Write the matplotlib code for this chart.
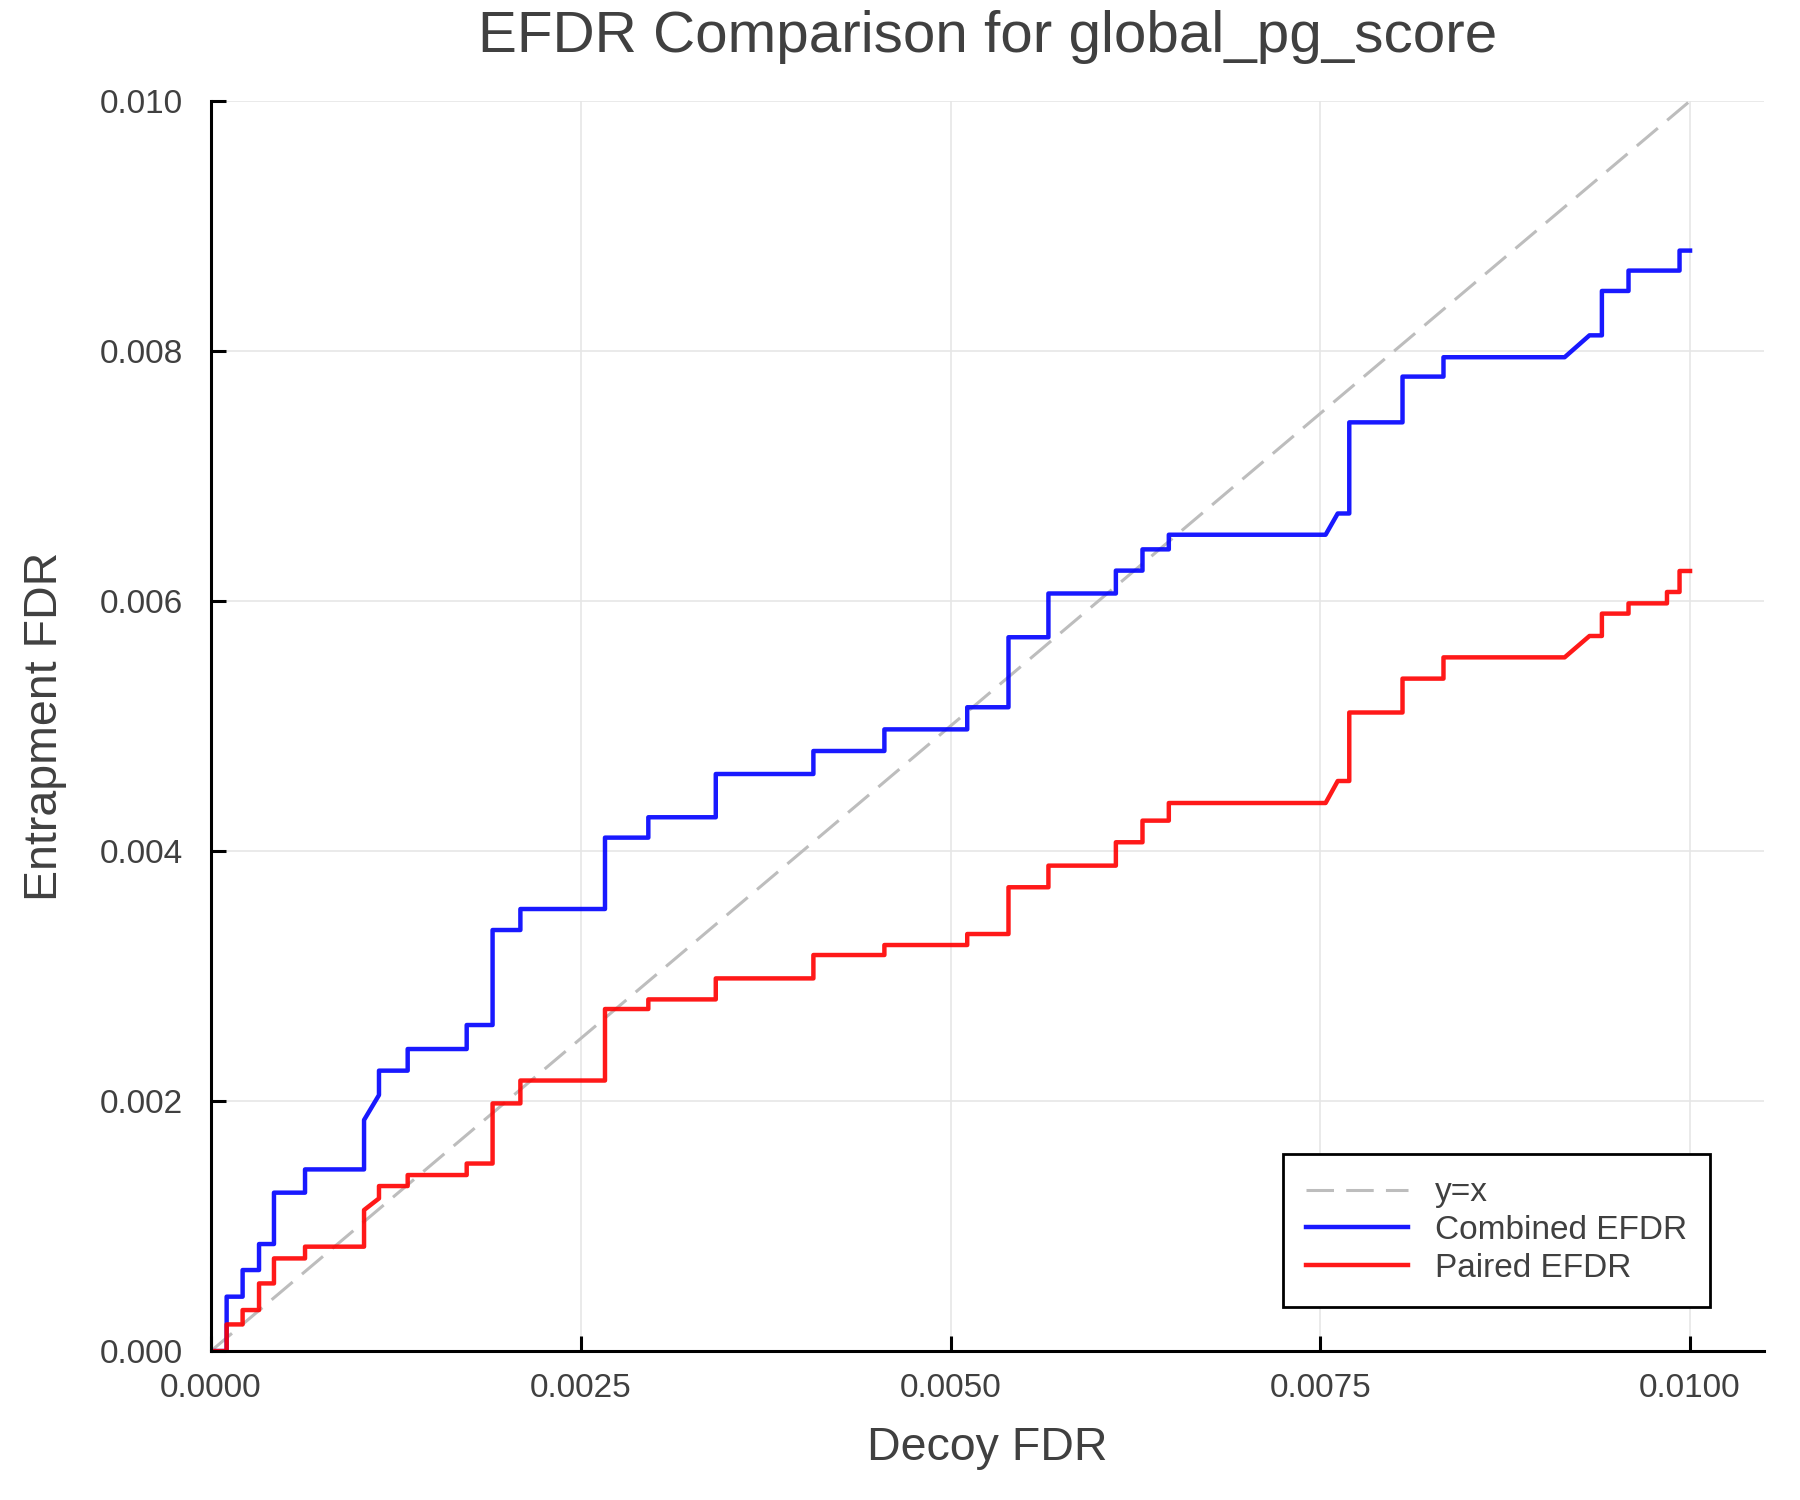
import numpy as np
import matplotlib
matplotlib.use('Agg')
import matplotlib.pyplot as plt

plt.rcParams['font.family'] = ['Liberation Sans', 'DejaVu Sans']

# vertices of the two EFDR curves (shared decoy FDR axis)
decoy_fdr = [0.0, 0.000106, 0.000106, 0.000214, 0.000214, 0.000325, 0.000325, 0.000426, 0.000426,
             0.000636, 0.000636, 0.001035, 0.001035, 0.001136, 0.001136, 0.00133, 0.00133,
             0.001729, 0.001729, 0.001904, 0.001904, 0.002092, 0.002092, 0.002664, 0.002664,
             0.002957, 0.002957, 0.003413, 0.003413, 0.004073, 0.004073, 0.004553, 0.004553,
             0.005113, 0.005113, 0.005392, 0.005392, 0.005662, 0.005662, 0.006118, 0.006118,
             0.006298, 0.006298, 0.006476, 0.006476, 0.007536, 0.007618, 0.007696, 0.007696,
             0.008056, 0.008056, 0.008333, 0.008333, 0.009152, 0.00932, 0.009404, 0.009404,
             0.009584, 0.009584, 0.009844, 0.009844, 0.009929, 0.009929, 0.01]
combined_efdr = [0.0, 0.0, 0.000435, 0.000435, 0.000648, 0.000648, 0.000856, 0.000856, 0.001267,
                 0.001267, 0.001453, 0.001453, 0.001848, 0.002048, 0.002243, 0.002243, 0.002416,
                 0.002416, 0.002608, 0.002608, 0.003368, 0.003368, 0.003536, 0.003536, 0.004107,
                 0.004107, 0.00427, 0.00427, 0.004616, 0.004616, 0.0048, 0.0048, 0.004973,
                 0.004973, 0.00515, 0.00515, 0.00571, 0.00571, 0.00606, 0.00606, 0.006243,
                 0.006243, 0.006413, 0.006413, 0.00653, 0.00653, 0.0067, 0.0067, 0.007429,
                 0.007429, 0.007795, 0.007795, 0.00795, 0.00795, 0.008125, 0.008125, 0.00848,
                 0.00848, 0.008643, 0.008643, 0.008643, 0.008643, 0.008803, 0.008803]
paired_efdr = [0.0, 0.0, 0.000213, 0.000213, 0.000328, 0.000328, 0.000541, 0.000541, 0.000741,
               0.000741, 0.000835, 0.000835, 0.001128, 0.001221, 0.00132, 0.00132, 0.001408,
               0.001408, 0.0015, 0.0015, 0.001981, 0.001981, 0.002164, 0.002164, 0.002736,
               0.002736, 0.002813, 0.002813, 0.002981, 0.002981, 0.003168, 0.003168, 0.003248,
               0.003248, 0.003336, 0.003336, 0.00371, 0.00371, 0.003883, 0.003883, 0.00407,
               0.00407, 0.004243, 0.004243, 0.004384, 0.004384, 0.00456, 0.00456, 0.005108,
               0.005108, 0.005379, 0.005379, 0.005549, 0.005549, 0.00572, 0.00572, 0.005899,
               0.005899, 0.005981, 0.005981, 0.006072, 0.006072, 0.00624, 0.00624]

x_ticks = [0.0, 0.0025, 0.005, 0.0075, 0.01]
y_ticks = [0.0, 0.002, 0.004, 0.006, 0.008, 0.010]

text_c = '#404040'

fig = plt.figure(figsize=(18, 15), dpi=100)
ax = fig.add_axes([0.1172, 0.0993, 0.980 - 0.1172, 0.9327 - 0.0993])

ax.plot([0, 0.01], [0, 0.01], ls=(0, (9, 4)), c='#bdbdbd', lw=2.2, label='y=x')
ax.plot(decoy_fdr, combined_efdr, c='blue', alpha=0.9, lw=3.2, label='Combined EFDR')
ax.plot(decoy_fdr, paired_efdr, c='red', alpha=0.9, lw=3.2, label='Paired EFDR')

ax.set_xlim(0, 0.0105)
ax.set_ylim(0, 0.010)
ax.set_xticks(x_ticks)
ax.set_xticklabels(['%.4f' % v for v in x_ticks])
ax.set_yticks(y_ticks)
ax.set_yticklabels(['%.3f' % v for v in y_ticks])
ax.tick_params(direction='in', length=11, width=2.2, labelsize=24, labelcolor=text_c)
ax.tick_params(axis='x', pad=16)
ax.tick_params(axis='y', pad=20)
ax.grid(True, color='#e6e6e6', lw=1.2)
ax.set_axisbelow(True)
for s in ['top', 'right']:
    ax.spines[s].set_visible(False)
for s in ['left', 'bottom']:
    ax.spines[s].set_linewidth(2.2)

ax.set_xlabel('Decoy FDR', fontsize=33.5, color=text_c, labelpad=16)
ax.set_ylabel('Entrapment FDR', fontsize=33.5, color=text_c, labelpad=24)
ax.set_title('EFDR Comparison for global_pg_score', fontsize=42, color=text_c, pad=35)

leg = ax.legend(loc='lower right', fontsize=24, frameon=True, fancybox=False,
                edgecolor='black', framealpha=1, handlelength=3.05, borderpad=0.7,
                labelspacing=0.2, bbox_to_anchor=(0.976, 0.022), labelcolor=text_c)
leg.get_frame().set_linewidth(2.0)

plt.savefig('out.png', dpi=100)
